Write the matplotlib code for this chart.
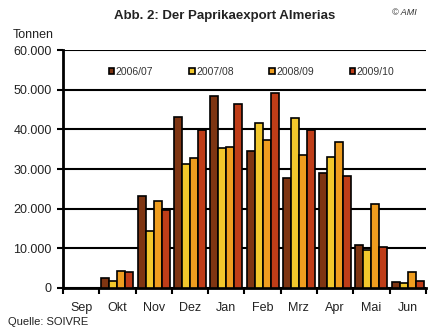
import matplotlib.pyplot as plt
import numpy as np
from matplotlib.ticker import FuncFormatter

plt.rcParams['font.family'] = ['Liberation Sans', 'DejaVu Sans']

months = ["Sep", "Okt", "Nov", "Dez", "Jan", "Feb", "Mrz", "Apr", "Mai", "Jun"]
seasons = ["2006/07", "2007/08", "2008/09", "2009/10"]

# export volumes in tonnes per month
s0607 = [0, 2600, 23300, 43200, 48500, 34600, 27800, 28900, 10700, 1600]
s0708 = [0, 1800, 14400, 31200, 35400, 41500, 42900, 33100, 9600, 1200]
s0809 = [0, 4200, 21900, 32900, 35600, 37300, 33500, 36900, 21100, 3900]
s0910 = [0, 3900, 19700, 39800, 46400, 49100, 39800, 28300, 10200, 1800]

colors = ["#7e3512", "#f2c72c", "#ef9d1f", "#bf3d18"]

fig = plt.figure(figsize=(4.28, 3.34), dpi=100)
ax = fig.add_axes([0.147, 0.138, 0.848, 0.712])

x = np.arange(len(months))
w = 0.22
for i, (vals, c, lab) in enumerate(zip([s0607, s0708, s0809, s0910], colors, seasons)):
    ax.bar(x + (i - 1.5) * w, vals, w, color=c, edgecolor="black",
           linewidth=1.2, label=lab, zorder=3)

ax.set_xlim(-0.5, len(months) - 0.5)
ax.set_ylim(0, 60000)
ax.set_yticks(range(0, 60001, 10000))
ax.yaxis.set_major_formatter(FuncFormatter(lambda v, p: f"{int(v):,}".replace(",", ".")))
ax.yaxis.grid(True, color="black", linewidth=1.5, zorder=0)

ax.set_xticks(x)
ax.set_xticklabels(months)
ax.set_xticks(np.arange(-0.5, len(months), 1), minor=True)
ax.tick_params(axis="x", which="major", length=0, pad=10, labelsize=9, labelcolor="#222222")
ax.tick_params(axis="x", which="minor", length=4, width=1.5, direction="out")
ax.tick_params(axis="y", length=4, width=1.5, labelsize=9, labelcolor="#222222", pad=4)

for s in ["top", "right"]:
    ax.spines[s].set_visible(False)
ax.spines["left"].set_linewidth(2)
ax.spines["bottom"].set_linewidth(2)

leg = ax.legend(loc="upper center", ncol=4, frameon=False, fontsize=7.5,
                bbox_to_anchor=(0.52, 0.97), handlelength=0.55, handleheight=0.55,
                handletextpad=0.15, columnspacing=3.4)
for t in leg.get_texts():
    t.set_color("#333333")

fig.text(0.525, 0.952, "Abb. 2: Der Paprikaexport Almerias", ha="center", va="center",
         fontsize=9.5, fontweight="bold", color="#222222")
fig.text(0.915, 0.963, "© AMI", ha="left", va="center", fontsize=6.5,
         style="italic", color="#333333")
fig.text(0.03, 0.895, "Tonnen", ha="left", va="center", fontsize=9, color="#222222")
fig.text(0.018, 0.035, "Quelle: SOIVRE", ha="left", va="center", fontsize=8, color="#222222")

fig.savefig("out.png", dpi=100)
